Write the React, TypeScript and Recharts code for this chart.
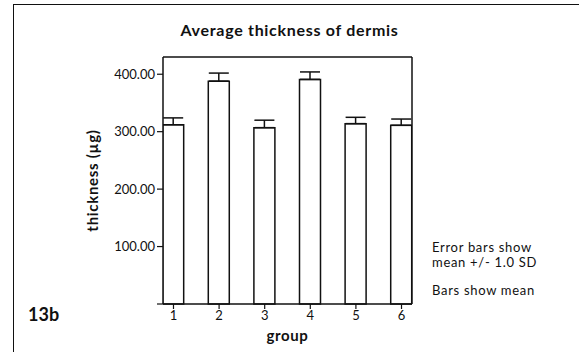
import { Bar, BarChart, ErrorBar, XAxis, YAxis, Label, ReferenceLine } from 'recharts'

const groups = [1, 2, 3, 4, 5, 6]
const means = [312, 388, 307, 391, 314, 311]
const sds = [12, 14, 13, 13, 11, 11]
const yTicks = [0, 100, 200, 300, 400]
const notes = ['Error bars show', 'mean +/- 1.0 SD']

const data = groups.map((g, i) => ({ group: g, mean: means[i], err: [0, sds[i]] }))

const FONT = 'Lato, "Open Sans", sans-serif'
const INK = '#111'
const X_DOMAIN: [number, number] = [0.77, 6.23]
const Y_MAX = 430

const noteStyle = { position: 'absolute' as const, left: 432, fontSize: 13, letterSpacing: 0.7, lineHeight: '14px', color: INK, whiteSpace: 'nowrap' as const }

export default function App() {
  return (
    <div style={{ position: 'absolute', left: 0, top: 0, width: 579, height: 352, background: '#fff', fontFamily: FONT, overflow: 'hidden' }}>
      <div style={{ position: 'absolute', left: 13, top: 4, width: 600, height: 400, borderTop: `1.5px solid ${INK}`, borderLeft: `1.5px solid ${INK}` }} />
      <div style={{ position: 'absolute', left: 0, width: 579, top: 20, textAlign: 'center', fontWeight: 700, fontSize: 16, letterSpacing: 0.7, color: INK }}>
        Average thickness of dermis
      </div>
      <BarChart
        width={579}
        height={352}
        data={data}
        margin={{ top: 57, right: 167, bottom: 0, left: 0 }}
        style={{ position: 'absolute', left: 0, top: 0 }}
      >
        <XAxis
          dataKey="group"
          type="number"
          domain={X_DOMAIN}
          ticks={groups}
          allowDataOverflow
          height={48}
          tickSize={5}
          tickMargin={2}
          tick={{ fill: INK, fontSize: 13, fontFamily: FONT }}
          axisLine={{ stroke: INK, strokeWidth: 1.5 }}
          tickLine={{ stroke: INK, strokeWidth: 1.2 }}
        >
          <Label value="group" position="insideBottom" offset={11} style={{ fill: INK, fontWeight: 700, fontSize: 15, letterSpacing: 0.6, fontFamily: FONT }} />
        </XAxis>
        <YAxis
          domain={[0, Y_MAX]}
          ticks={yTicks}
          width={163}
          tickSize={6}
          tickMargin={2}
          tickFormatter={(v: number) => (v === 0 ? '' : v.toFixed(2))}
          tick={{ fill: INK, fontSize: 13, fontFamily: FONT }}
          axisLine={{ stroke: INK, strokeWidth: 1.5 }}
          tickLine={{ stroke: INK, strokeWidth: 1.2 }}
        >
          <Label value="thickness (µg)" angle={-90} position="insideLeft" offset={93} style={{ textAnchor: 'middle', fill: INK, fontWeight: 700, fontSize: 15, letterSpacing: 0.7, fontFamily: FONT }} />
        </YAxis>
        <ReferenceLine y={Y_MAX} stroke={INK} strokeWidth={1.5} ifOverflow="visible" />
        <ReferenceLine x={X_DOMAIN[1]} stroke={INK} strokeWidth={1.5} ifOverflow="visible" />
        <Bar dataKey="mean" fill="#fff" stroke={INK} strokeWidth={1.5} barSize={21} isAnimationActive={false}>
          <ErrorBar dataKey="err" direction="y" width={10} stroke={INK} strokeWidth={1.5} isAnimationActive={false} />
        </Bar>
      </BarChart>
      <div style={{ position: 'absolute', left: 28, top: 303, fontWeight: 700, fontSize: 18, color: INK }}>13b</div>
      <div style={{ ...noteStyle, top: 240 }}>{notes[0]}</div>
      <div style={{ ...noteStyle, top: 255 }}>{notes[1]}</div>
      <div style={{ ...noteStyle, top: 283 }}>Bars show mean</div>
    </div>
  )
}
